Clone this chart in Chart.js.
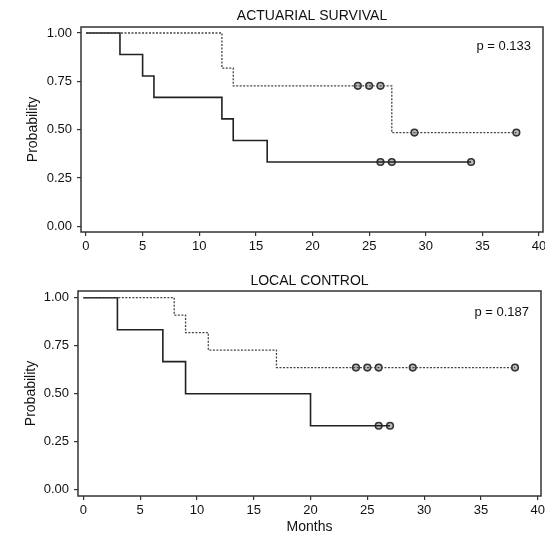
<!DOCTYPE html>
<html>
<head>
<meta charset="utf-8">
<script src="https://cdn.jsdelivr.net/npm/chart.js@4/dist/chart.umd.min.js"></script>
<style>
html,body{margin:0;padding:0;background:#fff;}
#wrap{position:relative;width:545px;height:534px;overflow:hidden;}
canvas{position:absolute;left:0;}
#c1{top:0;}
#c2{top:267px;}
</style>
</head>
<body>
<div id="wrap">
<canvas id="c1" width="545" height="267"></canvas>
<canvas id="c2" width="545" height="267"></canvas>
</div>
<script>
// ---- data ----
const xTickValues = [0, 5, 10, 15, 20, 25, 30, 35, 40];
const xTickLabels = ['0', '5', '10', '15', '20', '25', '30', '35', '40'];
const yTickValues = [0, 0.25, 0.5, 0.75, 1];
const yTickLabels = ['0.00', '0.25', '0.50', '0.75', '1.00'];

// Actuarial survival
const survSolidTimes = [0, 3, 5, 6, 12, 13, 16, 34];
const survSolidProb  = [1, 0.889, 0.778, 0.667, 0.556, 0.444, 0.333, 0.333];
const survSolidCensorTimes = [26, 27, 34];
const survSolidCensorProb  = [0.333, 0.333, 0.333];
const survDashTimes = [0, 12, 13, 27, 38];
const survDashProb  = [1, 0.818, 0.727, 0.485, 0.485];
const survDashCensorTimes = [24, 25, 26, 29, 38];
const survDashCensorProb  = [0.727, 0.727, 0.727, 0.485, 0.485];

// Local control
const lcSolidTimes = [0, 3, 7, 9, 20, 27];
const lcSolidProb  = [1, 0.833, 0.667, 0.5, 0.333, 0.333];
const lcSolidCensorTimes = [26, 27];
const lcSolidCensorProb  = [0.333, 0.333];
const lcDashTimes = [0, 8, 9, 11, 17, 38];
const lcDashProb  = [1, 0.909, 0.818, 0.727, 0.636, 0.636];
const lcDashCensorTimes = [24, 25, 26, 29, 38];
const lcDashCensorProb  = [0.636, 0.636, 0.636, 0.636, 0.636];

const titles = ['ACTUARIAL SURVIVAL', 'LOCAL CONTROL'];
const pValues = ['p = 0.133', 'p = 0.187'];

// ---- rendering ----
Chart.defaults.font.family = "'Liberation Sans', Arial, Helvetica, sans-serif";
Chart.defaults.color = '#111';

const pts = (xs, ys) => xs.map((x, i) => ({x: x, y: ys[i]}));

const framePlugin = {
  id: 'frame',
  afterDatasetsDraw(chart, args, opts) {
    const a = chart.chartArea, ctx = chart.ctx;
    ctx.save();
    ctx.strokeStyle = '#333';
    ctx.lineWidth = 1.5;
    ctx.strokeRect(a.left, a.top, a.right - a.left, a.bottom - a.top);
    ctx.fillStyle = '#111';
    ctx.font = "13px 'Liberation Sans', Arial, sans-serif";
    ctx.textAlign = 'right';
    ctx.textBaseline = 'middle';
    ctx.fillText(opts.p, a.right - 12, a.top + opts.pdy);
    ctx.restore();
  }
};

function makeChart(id, cfg) {
  const datasets = [
    {data: pts(cfg.dashT, cfg.dashP), stepped: 'before', borderColor: '#444', borderWidth: 1.3,
     borderDash: [2, 1.5], pointRadius: 0, fill: false},
    {data: pts(cfg.solidT, cfg.solidP), stepped: 'before', borderColor: '#222', borderWidth: 1.6,
     pointRadius: 0, fill: false},
    {data: pts(cfg.dashCT, cfg.dashCP), showLine: false, pointRadius: 3.3, pointBorderWidth: 1.6,
     pointBorderColor: '#333', pointBackgroundColor: '#bbb'},
    {data: pts(cfg.solidCT, cfg.solidCP), showLine: false, pointRadius: 3.3, pointBorderWidth: 1.6,
     pointBorderColor: '#333', pointBackgroundColor: '#bbb'}
  ];
  return new Chart(document.getElementById(id), {
    type: 'line',
    data: {datasets: datasets},
    options: {
      responsive: false,
      animation: false,
      devicePixelRatio: 1,
      layout: {autoPadding: false, padding: {left: 0, right: cfg.padRight, top: cfg.padTop, bottom: 0}},
      plugins: {
        legend: {display: false},
        tooltip: {enabled: false},
        title: {display: true, text: cfg.title, fullSize: false,
                font: {size: 14, weight: 'normal', lineHeight: 1.2}, color: '#111',
                padding: {top: cfg.titleTop, bottom: cfg.titleBottom}},
        frame: {p: cfg.p, pdy: cfg.pdy}
      },
      scales: {
        x: {
          type: 'linear', min: cfg.xmin, max: cfg.xmax,
          afterBuildTicks: s => { s.ticks = xTickValues.map(v => ({value: v})); },
          afterFit: s => { s.height = cfg.xh; s.paddingLeft = 0; s.paddingRight = 0; },
          ticks: {autoSkip: false, maxRotation: 0, padding: 3, font: {size: 13},
                  callback: (v) => xTickLabels[xTickValues.indexOf(v)]},
          grid: {drawOnChartArea: false, drawTicks: true, tickLength: 4, color: '#333', lineWidth: 1.2},
          border: {display: false},
          title: {display: cfg.showMonths, text: 'Months', font: {size: 14, lineHeight: 1},
                  padding: {top: 0, bottom: cfg.monthsPad}}
        },
        y: {
          type: 'linear', min: cfg.ymin, max: cfg.ymax,
          afterBuildTicks: s => { s.ticks = yTickValues.map(v => ({value: v})); },
          afterFit: s => { s.width = cfg.yw; s.paddingTop = 0; s.paddingBottom = 0; },
          ticks: {autoSkip: false, padding: 5, font: {size: 13},
                  callback: (v) => yTickLabels[yTickValues.indexOf(v)]},
          grid: {drawOnChartArea: false, drawTicks: true, tickLength: 4, color: '#333', lineWidth: 1.2},
          border: {display: false},
          title: {display: true, text: 'Probability', font: {size: 14, lineHeight: 1.2},
                  padding: {top: cfg.probPad, bottom: 0}}
        }
      }
    },
    plugins: [framePlugin]
  });
}

makeChart('c1', {
  solidT: survSolidTimes, solidP: survSolidProb, solidCT: survSolidCensorTimes, solidCP: survSolidCensorProb,
  dashT: survDashTimes, dashP: survDashProb, dashCT: survDashCensorTimes, dashCP: survDashCensorProb,
  title: titles[0], p: pValues[0], pdy: 19,
  padTop: 0, titleTop: 7.6, titleBottom: 2.6, padRight: 2,
  xmin: -0.44, xmax: 40.35, ymin: -0.029, ymax: 1.031,
  xh: 35, yw: 81, showMonths: false, monthsPad: 0, probPad: 25
});

makeChart('c2', {
  solidT: lcSolidTimes, solidP: lcSolidProb, solidCT: lcSolidCensorTimes, solidCP: lcSolidCensorProb,
  dashT: lcDashTimes, dashP: lcDashProb, dashCT: lcDashCensorTimes, dashCP: lcDashCensorProb,
  title: titles[1], p: pValues[1], pdy: 21,
  padTop: 0, titleTop: 6.1, titleBottom: 1.1, padRight: 4,
  xmin: -0.47, xmax: 40.29, ymin: -0.033, ymax: 1.035,
  xh: 38, yw: 78, showMonths: true, monthsPad: 0, probPad: 23
});
</script>
</body>
</html>
